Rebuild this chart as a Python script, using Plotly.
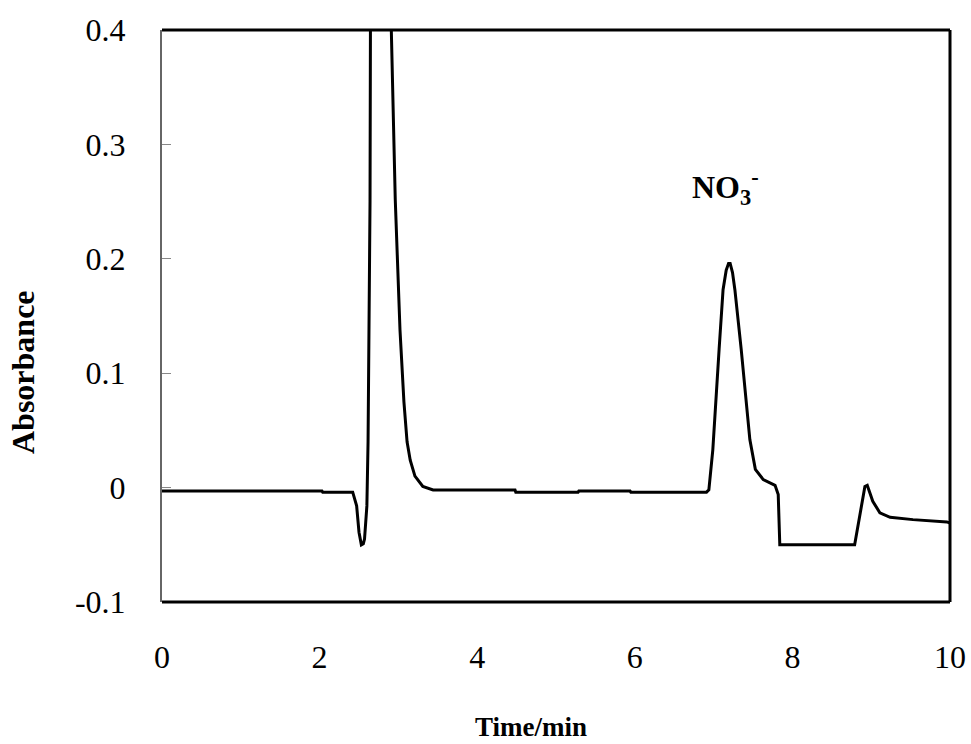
import plotly.graph_objects as go

# Time (min) and absorbance
time_min = [0.00, 2.03, 2.04, 2.42, 2.47, 2.50, 2.53, 2.555, 2.57, 2.60, 2.615, 2.64, 2.645, 2.75,
            2.91, 2.96, 3.02, 3.07, 3.11, 3.15, 3.21, 3.31, 3.44, 3.55, 4.48, 4.49, 5.28, 5.29, 5.94,
            5.95, 6.91, 6.94, 6.99, 7.07, 7.12, 7.16, 7.19, 7.21, 7.24, 7.27, 7.35, 7.46, 7.53, 7.63,
            7.78, 7.82, 7.84, 8.79, 8.86, 8.92, 8.95, 9.02, 9.11, 9.24, 9.53, 9.96, 10.00]
absorbance = [-0.003, -0.003, -0.004, -0.004, -0.016, -0.039, -0.050, -0.049, -0.045, -0.016, 0.040,
              0.250, 0.400, 1.000, 0.400, 0.252, 0.138, 0.075, 0.040, 0.024, 0.010, 0.001, -0.002,
              -0.002, -0.002, -0.004, -0.004, -0.003, -0.003, -0.004, -0.004, -0.002, 0.033, 0.121,
              0.173, 0.190, 0.196, 0.196, 0.188, 0.173, 0.121, 0.042, 0.016, 0.007, 0.002, -0.006,
              -0.050, -0.050, -0.022, 0.001, 0.002, -0.012, -0.022, -0.026, -0.028, -0.030, -0.031]

x_ticks = [0, 2, 4, 6, 8, 10]
x_tick_labels = ["0", "2", "4", "6", "8", "10"]
y_ticks = [-0.1, 0.0, 0.1, 0.2, 0.3, 0.4]
y_tick_labels = ["-0.1", "0", "0.1", "0.2", "0.3", "0.4"]

serif = "Liberation Serif, Times New Roman, serif"

W, H = 971, 744
L, R, T, B = 162, 21, 30, 142
pw, ph = W - L - R, H - T - B

fig = go.Figure()
fig.add_trace(go.Scatter(x=time_min, y=absorbance, mode="lines",
                         line=dict(color="black", width=3), showlegend=False))

fig.update_layout(
    width=W, height=H,
    margin=dict(l=L, r=R, t=T, b=B, autoexpand=False),
    paper_bgcolor="white", plot_bgcolor="white",
    font=dict(family=serif, color="black"),
    xaxis=dict(range=[0, 10], tickvals=x_ticks, ticktext=x_tick_labels, automargin=False,
               showgrid=False, zeroline=False, showline=False, ticks="",
               tickfont=dict(size=32, family=serif), ticklabelstandoff=33),
    yaxis=dict(range=[-0.1, 0.4], tickvals=y_ticks, ticktext=y_tick_labels, automargin=False,
               showgrid=False, zeroline=False, showline=True, linecolor="#666666",
               linewidth=2, ticks="inside", ticklen=9, tickwidth=1, tickcolor="#888888",
               tickfont=dict(size=32, family=serif), ticklabelstandoff=28),
    shapes=[
        dict(type="line", xref="x domain", yref="y domain", x0=0, x1=1, y0=1, y1=1,
             line=dict(color="black", width=3)),
        dict(type="line", xref="x domain", yref="y domain", x0=1, x1=1, y0=0, y1=1,
             line=dict(color="black", width=3)),
        dict(type="line", xref="x domain", yref="y domain", x0=0, x1=1, y0=0, y1=0,
             line=dict(color="black", width=3)),
    ],
    annotations=[
        dict(text="<b>NO<sub>3</sub><sup>-</sup></b>", x=7.15, y=0.262, xref="x", yref="y",
             xanchor="center", yanchor="middle",
             showarrow=False, font=dict(size=32, family=serif, color="black")),
        dict(text="<b>Time/min</b>", x=(531 - L) / pw, y=(H - B - 727) / ph,
             xref="paper", yref="paper", xanchor="center", yanchor="middle",
             showarrow=False, font=dict(size=27, family=serif, color="black")),
        dict(text="<b>Absorbance</b>", x=(23 - L) / pw, y=(H - B - 372) / ph, textangle=-90,
             xref="paper", yref="paper", xanchor="center", yanchor="middle",
             showarrow=False, font=dict(size=32, family=serif, color="black")),
    ],
)

fig.write_html("out.html")
